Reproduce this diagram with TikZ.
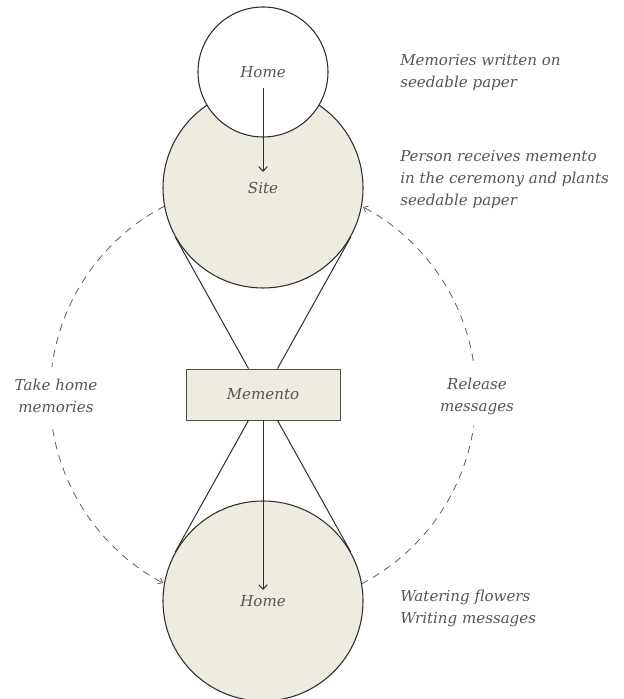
\documentclass[tikz,border=0pt]{standalone}
\usepackage{fontspec}
\setmainfont{DejaVu Serif}
\usetikzlibrary{calc,arrows.meta}
\definecolor{paper}{HTML}{EEEBE1}
\definecolor{ink}{HTML}{2E2E2E}
\definecolor{note}{HTML}{555555}
\definecolor{trail}{HTML}{5E5E5E}
\tikzset{
	place/.style={circle,draw=ink,line width=0.8pt,fill=paper,minimum size=150pt,inner sep=0pt},
	token/.style={rectangle,draw=ink!85,line width=0.6pt,fill=paper,minimum width=115.5pt,minimum height=38.25pt,inner sep=0pt},
	rope/.style={draw=ink,line width=0.75pt},
	journey/.style={draw=trail,line width=0.6pt,dash pattern=on 5.5pt off 4.5pt,-{Straight Barb[length=3pt,width=5pt]}},
	aside/.style={align=left,anchor=west,inner sep=0pt},
	tag/.style={align=center,fill=white,inner xsep=2pt,inner ysep=9pt},
	>={Straight Barb[length=3.5pt,width=6.5pt]}
}

\begin{document}
\begin{tikzpicture}[x=0.75pt,y=0.75pt,font=\itshape\fontsize{11.3}{16.5}\selectfont,text=note]
	\useasboundingbox (0,0) rectangle (624,699);
	\coordinate (hub) at (263,304);
	% the loop round the memento
	\draw[journey] (hub) ++(117.5:213) arc (117.5:242:213);
	\draw[journey] (hub) ++(-62.5:213) arc (-62.5:62:213);
	\node[tag] (take) at (56,303) {Take home\\memories};
	\node[tag] (release) at (477,303) {Release\\messages};

	\node[place] (site) at (263,511) {Site};
	\node[place,fill=white,minimum size=97.5pt] (home) at (263,627) {Home};
	\node[token] (memento) at (263,304.5) {Memento};
	\node[place] (garden) at (263,98) {Home};

	\coordinate (m1) at ($(memento.north)+(-14.5,0)$);
	\coordinate (m2) at ($(memento.north)+(14.5,0)$);
	\coordinate (m3) at ($(memento.south)+(-14.5,0)$);
	\coordinate (m4) at ($(memento.south)+(14.5,0)$);
	\draw[rope] (m1) -- (tangent cs:node=site,point={(m1)},solution=2);
	\draw[rope] (m2) -- (tangent cs:node=site,point={(m2)},solution=1);
	\draw[rope] (m3) -- (tangent cs:node=garden,point={(m3)},solution=1);
	\draw[rope] (m4) -- (tangent cs:node=garden,point={(m4)},solution=2);

	\draw[rope,->] ($(home.center)+(0,-16)$) -- ($(site.center)+(0,16)$);
	\draw[rope,->] (memento.south) -- ($(garden.center)+(0,11)$);

	\node[aside] (n1) at (400,626) {Memories written on\\seedable paper};
	\node[aside] (n2) at (400,519) {Person receives memento\\in the ceremony and plants\\seedable paper};
	\node[aside] (n3) at (400,90.5) {Watering flowers\\Writing messages};
\end{tikzpicture}
\end{document}
